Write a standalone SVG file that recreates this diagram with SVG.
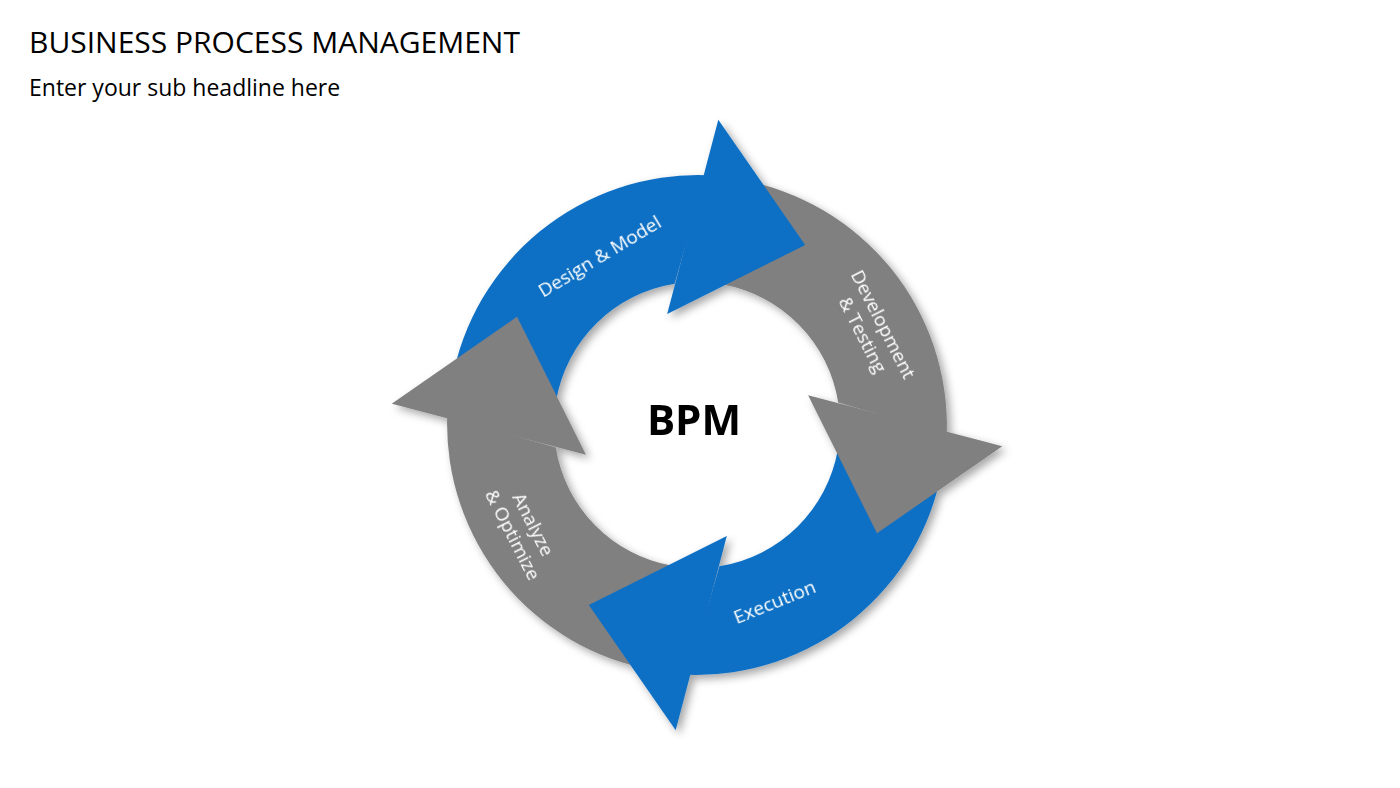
<svg xmlns="http://www.w3.org/2000/svg" width="1400" height="788" viewBox="0 0 1400 788">
<style>
.blue{fill:#1170c4}.grey{fill:#808080}
.lbl{fill:#fff;font-family:"Open Sans",sans-serif;font-size:19px;text-anchor:middle}
</style>
<defs>
<filter id="sh" x="-20%" y="-20%" width="140%" height="140%"><feDropShadow dx="4" dy="4" stdDeviation="4" flood-color="#000" flood-opacity="0.35"/></filter>
<g id="band"><path d="M 451.8 381.6 A 250 250 0 0 1 705.7 175.2 L 674.6 283.8 A 143 143 0 0 0 556.2 400.2 Z"/></g>
<g id="head"><path d="M 718.3 119.7 L 805.2 245.0 L 667.2 313.9 Z"/></g>
</defs>
<rect width="1400" height="788" fill="#fff"/>
<text x="29" y="53" font-family="Open Sans, sans-serif" font-size="30" fill="#000">BUSINESS PROCESS MANAGEMENT</text>
<text x="29" y="96" font-family="Open Sans, sans-serif" font-size="23" fill="#000">Enter your sub headline here</text>
<g id="connectors" filter="url(#sh)">
<use href="#band" class="blue"/>
<use href="#band" class="grey" transform="rotate(90 697 425)"/>
<use href="#band" class="blue" transform="rotate(180 697 425)"/>
<use href="#band" class="grey" transform="rotate(270 697 425)"/>
<use href="#head" class="blue"/>
<use href="#head" class="grey" transform="rotate(90 697 425)"/>
<use href="#head" class="blue" transform="rotate(180 697 425)"/>
<use href="#head" class="grey" transform="rotate(270 697 425)"/>
</g>
<g id="design"><text class="lbl" transform="translate(603,262) rotate(-31)">Design &amp; Model</text></g>
<g id="development"><text class="lbl" transform="translate(872,330) rotate(63)"><tspan x="0" y="-6">Development</tspan><tspan x="0" y="17">&amp; Testing</tspan></text></g>
<g id="execution"><text class="lbl" transform="translate(777,608) rotate(-22)">Execution</text></g>
<g id="analyze"><text class="lbl" transform="translate(522,530) rotate(63)"><tspan x="0" y="-6">Analyze</tspan><tspan x="0" y="17">&amp; Optimize</tspan></text></g>
<g id="bpm"><text x="694" y="435" font-family="Open Sans, sans-serif" font-weight="bold" font-size="42" text-anchor="middle">BPM</text></g>
</svg>
